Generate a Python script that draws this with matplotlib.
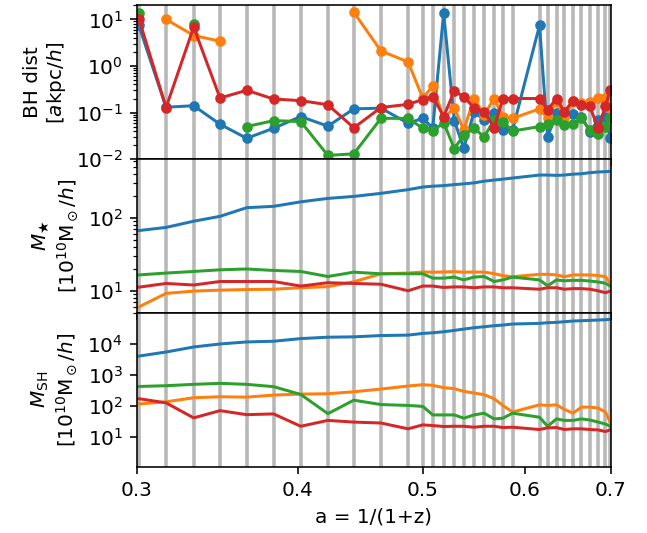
import numpy as np
import matplotlib
matplotlib.use("Agg")
import matplotlib.pyplot as plt
from matplotlib.ticker import FixedLocator, FormatStrFormatter, NullLocator, LogLocator

nan = np.nan

# snapshot scale factors
a_snap = [0.301, 0.316, 0.332, 0.348, 0.365, 0.383, 0.402, 0.422, 0.442, 0.464,
          0.487, 0.500, 0.509, 0.519, 0.529, 0.538, 0.548, 0.558, 0.568, 0.577,
          0.587, 0.616, 0.625, 0.635, 0.644, 0.654, 0.664, 0.674, 0.684, 0.693, 0.699]

# BH distance [akpc/h]
dist_blue = [7.4, 0.13, 0.14, 0.056, 0.028, 0.046, 0.082, 0.051, 0.12, 0.124,
             0.059, 0.075, 0.047, 13.7, 0.067, 0.017, 0.105, 0.069, 0.097, 0.042,
             0.042, 7.4, 0.030, 0.097, 0.092, 0.092, 0.082, 0.039, 0.069, 0.082, 0.028]
dist_orange = [nan, 10.0, 4.5, 3.4, nan, nan, nan, nan, 14.2, 2.1,
               1.22, 0.205, 0.37, 0.075, 0.128, 0.042, 0.2, 0.089, 0.2, 0.082,
               0.075, 0.12, 0.075, 0.18, 0.075, 0.18, 0.16, 0.17, 0.205, 0.205, 0.125]
dist_green = [13.7, nan, 7.8, nan, 0.050, 0.067, 0.064, 0.012, 0.013, 0.075,
              0.075, 0.046, 0.040, 0.061, 0.0168, 0.033, 0.046, 0.030, 0.069, 0.064,
              0.040, 0.050, 0.058, 0.069, 0.054, 0.058, 0.075, 0.042, 0.034, 0.050, 0.075]
dist_red = [10.4, 0.128, 6.8, 0.205, 0.30, 0.195, 0.18, 0.147, 0.047, 0.128,
            0.15, 0.19, 0.22, 0.082, 0.29, 0.22, 0.125, 0.105, 0.047, 0.2,
            0.2, 0.2, 0.115, 0.2, 0.105, 0.18, 0.147, 0.135, 0.046, 0.135, 0.31]

# stellar mass [1e10 Msun/h]
mstar_blue = [67, 74, 90, 105, 138, 144, 166, 185, 197, 217,
              244, 265, 272, 277, 286, 293, 302, 319, 330, 340,
              352, 387, 387, 383, 387, 398, 403, 417, 426, 431, 435]
mstar_orange = [6.0, 9.2, 9.9, 10.2, 10.4, 10.5, 11.0, 11.4, 13.3, 17.1,
                17.5, 18.1, 18.0, 18.1, 18.3, 18.0, 18.1, 18.0, 17.2, 16.1,
                15.6, 16.8, 16.8, 16.5, 15.6, 16.5, 16.5, 16.5, 16.2, 15.6, 12.7]
mstar_green = [16.5, 17.5, 18.4, 19.4, 19.9, 19.0, 18.4, 15.7, 18.0, 17.1,
               17.1, 17.1, 14.9, 14.9, 15.4, 14.1, 15.4, 15.7, 13.4, 14.1,
               15.4, 14.1, 11.7, 14.1, 13.7, 13.9, 13.9, 13.6, 13.2, 12.7, 11.6]
mstar_red = [11.2, 12.6, 12.0, 13.4, 13.4, 13.4, 11.6, 12.9, 12.6, 12.3,
             10.0, 11.6, 11.6, 11.1, 11.3, 11.3, 11.0, 11.3, 11.3, 11.0,
             11.0, 10.5, 11.0, 11.0, 10.5, 10.7, 10.7, 10.5, 10.0, 9.4, 9.9]

# subhalo mass [1e10 Msun/h]
msh_blue = [4000, 5400, 7850, 9800, 11400, 12000, 14600, 16200, 16600, 18300,
            18900, 21400, 22500, 24200, 26800, 29600, 32700, 35200, 37900, 39800,
            43000, 45100, 47400, 48600, 51000, 53700, 55000, 56300, 57800, 59300, 60800]
msh_orange = [115, 135, 182, 196, 191, 222, 239, 245, 284, 347,
              435, 480, 457, 385, 357, 292, 258, 228, 169, 103,
              63, 108, 103, 108, 77, 58, 91, 91, 85, 63, 30]
msh_green = [420, 445, 492, 530, 492, 414, 233, 56, 152, 110,
             103, 96, 51, 51, 51, 40, 51, 58, 38, 40,
             58, 43, 22, 38, 34, 34, 38, 35, 30, 26, 22]
msh_red = [170, 125, 41, 70, 52, 55, 22, 34, 30, 28,
           18.2, 24.4, 23.2, 21.6, 22, 22, 20.5, 22, 22, 20,
           20.5, 17.3, 19.6, 20, 17.3, 18.2, 18.2, 17.3, 16.8, 14.9, 16.8]

colors = ['C0', 'C1', 'C2', 'C3']

fig, axes = plt.subplots(3, 1, figsize=(647 / 144, 533 / 144), dpi=144, sharex=True)
fig.subplots_adjust(left=0.2117, right=0.9444, top=0.990, bottom=0.1244, hspace=0)

panels = [
    (axes[0], [dist_blue, dist_orange, dist_green, dist_red], 'o', (1e-2, 20),
     'BH dist\n[$a$kpc$/h$]'),
    (axes[1], [mstar_blue, mstar_orange, mstar_green, mstar_red], None, (4.97, 640),
     '$M_\\bigstar$\n[$10^{10}$M$_\\odot$/$h$]'),
    (axes[2], [msh_blue, msh_orange, msh_green, msh_red], None, (1.1, 9.8e4),
     '$M_\\mathrm{SH}$\n[$10^{10}$M$_\\odot$/$h$]'),
]

for ax, series, marker, ylim, label in panels:
    for a in a_snap:
        ax.axvline(a, color='0.72', lw=1.8, zorder=0)
    for vals, c in zip(series, colors):
        ax.plot(a_snap, vals, color=c, lw=1.5, marker=marker, ms=4.3)
    ax.set_yscale('log')
    ax.set_ylim(*ylim)
    ax.yaxis.set_major_locator(LogLocator(base=10, numticks=12))
    ax.set_ylabel(label)

axes[2].set_xscale('log')
axes[2].set_xlim(0.3, 0.7)
axes[2].xaxis.set_major_locator(FixedLocator([0.3, 0.4, 0.5, 0.6, 0.7]))
axes[2].xaxis.set_major_formatter(FormatStrFormatter('%.1f'))
axes[2].xaxis.set_minor_locator(NullLocator())
axes[2].set_xlabel('a = 1/(1+z)')

fig.savefig('out.png', dpi=144)
